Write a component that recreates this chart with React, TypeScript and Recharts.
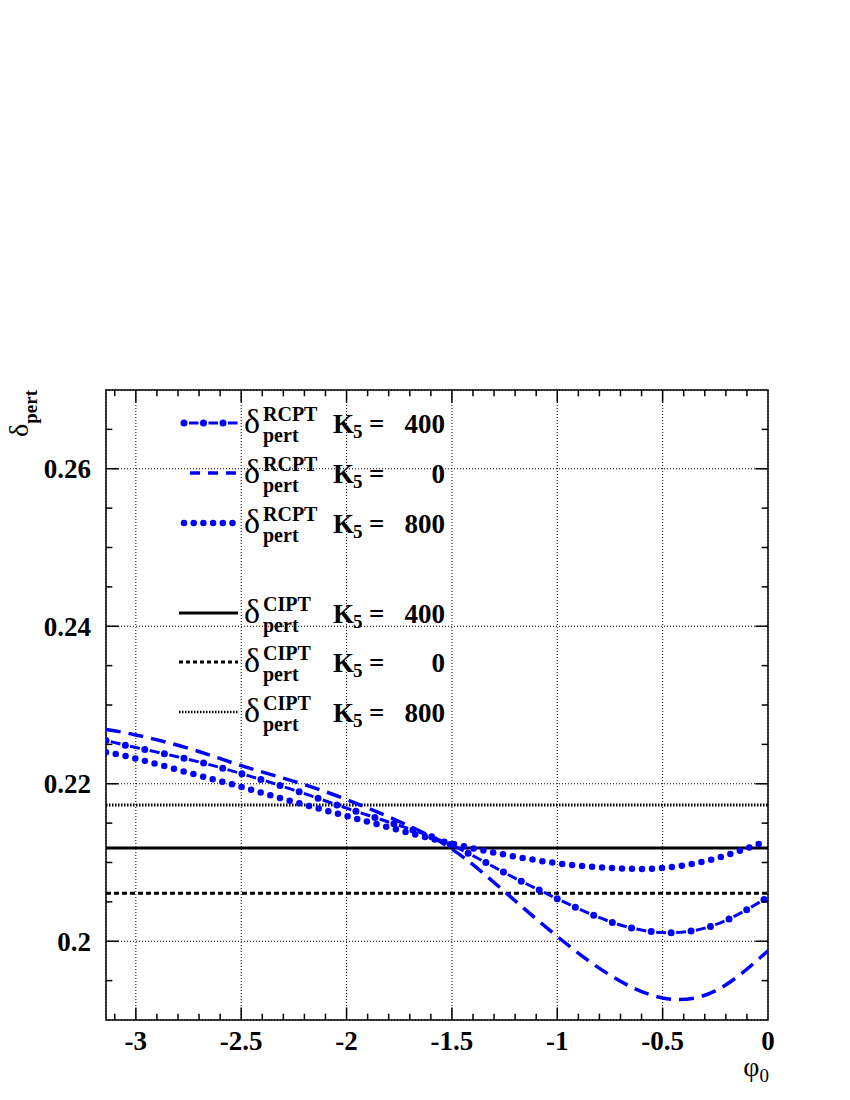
import React from 'react';
import { LineChart, Line, XAxis, YAxis, CartesianGrid, ReferenceLine, ReferenceArea } from 'recharts';

// phi_0 sample points and delta_pert values
const PHI = [-Math.PI, -3, -2.75, -2.5, -2.25, -2, -1.75, -1.5, -1.25, -1, -0.75, -0.5, -0.25, 0];
const RCPT_K400 = [0.2255, 0.2246, 0.2231, 0.2213, 0.2192, 0.2169, 0.2147, 0.2122, 0.2087, 0.2054, 0.2025, 0.2011, 0.2021, 0.2056];
const RCPT_K0 = [0.2269, 0.2262, 0.2245, 0.2223, 0.2203, 0.2180, 0.2152, 0.2117, 0.2063, 0.2006, 0.1957, 0.1928, 0.1937, 0.1988];
const RCPT_K800 = [0.2240, 0.2232, 0.2214, 0.2196, 0.2177, 0.2159, 0.2141, 0.2124, 0.2110, 0.2099, 0.2093, 0.2093, 0.2105, 0.2128];

const CIPT_K400 = 0.21185;
const CIPT_K0 = 0.2061;
const CIPT_K800 = 0.2173;

const X_TICKS = [-3, -2.5, -2, -1.5, -1, -0.5, 0];
const Y_TICKS = [0.2, 0.22, 0.24, 0.26];
const X_MIN = -Math.PI;
const X_MAX = 0;
const Y_MIN = 0.19;
const Y_MAX = 0.27;

const FONT = '"Liberation Serif", "Times New Roman", serif';
const BLUE = '#0000ff';

const toPts = (ys: number[]) => PHI.map((x, i) => ({ x, y: ys[i] }));

// minor/major tick marks drawn inside the frame (ROOT style)
const xTickVals: { v: number; major: boolean }[] = [];
for (let k = -31; k <= -1; k++) xTickVals.push({ v: k / 10, major: k % 5 === 0 });
const yTickVals: { v: number; major: boolean }[] = [];
for (let k = 39; k <= 53; k++) yTickVals.push({ v: k * 0.005, major: k % 4 === 0 });

const XT_MAJ = 0.0016, XT_MIN = 0.0008, YT_MAJ = 0.06, YT_MIN = 0.03;

const tickStyle = { fontFamily: FONT, fontWeight: 'bold' as const, fontSize: 27, fill: '#000' };

function LegendRow({ y, kind, label, k5 }: { y: number; kind: string; label: string; k5: string }) {
  const base = y + 10;
  let sample: React.ReactNode = null;
  if (kind === 'dashdot') {
    sample = (
      <g>
        <line x1={184} x2={238} y1={y} y2={y} stroke={BLUE} strokeWidth={3} strokeDasharray="0 5 9.5 5" />
        <line x1={184} x2={238} y1={y} y2={y} stroke={BLUE} strokeWidth={7} strokeLinecap="round" strokeDasharray="0 19.5" />
      </g>
    );
  } else if (kind === 'dash') {
    sample = <line x1={190} x2={238} y1={y} y2={y} stroke={BLUE} strokeWidth={3.5} strokeDasharray="10 8" />;
  } else if (kind === 'dots') {
    sample = <line x1={184} x2={236} y1={y} y2={y} stroke={BLUE} strokeWidth={6.5} strokeLinecap="round" strokeDasharray="0 9.7" />;
  } else if (kind === 'solid') {
    sample = <line x1={179} x2={238} y1={y} y2={y} stroke="#000" strokeWidth={3} />;
  } else if (kind === 'bdash') {
    sample = <line x1={179} x2={238} y1={y} y2={y} stroke="#000" strokeWidth={3} strokeDasharray="4 3" />;
  } else {
    sample = <line x1={179} x2={238} y1={y} y2={y} stroke="#000" strokeWidth={2.5} strokeDasharray="1.5 1.5" />;
  }
  return (
    <g fontFamily={FONT} fill="#000">
      {sample}
      <text x={244} y={base} fontSize={34}>δ</text>
      <text x={263} y={base - 12} fontSize={20} fontWeight="bold">{label}</text>
      <text x={263} y={base + 9} fontSize={20} fontWeight="bold">pert</text>
      <text x={333} y={base} fontSize={27} fontWeight="bold">K</text>
      <text x={353} y={base + 5} fontSize={19} fontWeight="bold">5</text>
      <text x={369} y={base} fontSize={27} fontWeight="bold">=</text>
      <text x={445} y={base} fontSize={27} fontWeight="bold" textAnchor="end">{k5}</text>
    </g>
  );
}

export default function App() {
  return (
    <div style={{ position: 'absolute', left: 0, top: 0, width: 850, height: 1100, background: '#fff' }}>
      <LineChart width={850} height={1100} margin={{ top: 390, right: 82, left: 6, bottom: 20 }}>
        <CartesianGrid stroke="#000" strokeWidth={1} strokeDasharray="1 2" />
        <XAxis
          type="number"
          dataKey="x"
          domain={[X_MIN, X_MAX]}
          ticks={X_TICKS}
          allowDataOverflow
          height={60}
          axisLine={false}
          tickLine={false}
          tickSize={0}
          tickMargin={11}
          tick={tickStyle}
          interval={0}
        />
        <YAxis
          type="number"
          domain={[Y_MIN, Y_MAX]}
          ticks={Y_TICKS}
          allowDataOverflow
          width={100}
          axisLine={false}
          tickLine={false}
          tickSize={0}
          tickMargin={15}
          tick={tickStyle}
          interval={0}
          tickFormatter={(v: number) => String(Number(v.toFixed(3)))}
        />
        <ReferenceLine y={CIPT_K800} stroke="#000" strokeWidth={3} strokeDasharray="1.5 1.5" />
        <ReferenceLine y={CIPT_K400} stroke="#000" strokeWidth={3} />
        <ReferenceLine y={CIPT_K0} stroke="#000" strokeWidth={3} strokeDasharray="5 3" />

        <Line data={toPts(RCPT_K0)} dataKey="y" type="natural" stroke={BLUE} strokeWidth={3.5} strokeDasharray="15 8" dot={false} activeDot={false} isAnimationActive={false} />
        <Line data={toPts(RCPT_K800)} dataKey="y" type="natural" stroke={BLUE} strokeWidth={6.5} strokeLinecap="round" strokeDasharray="0 10" dot={false} activeDot={false} isAnimationActive={false} />
        <Line data={toPts(RCPT_K400)} dataKey="y" type="natural" stroke={BLUE} strokeWidth={3} strokeDasharray="0 5 10 5" dot={false} activeDot={false} isAnimationActive={false} />
        <Line data={toPts(RCPT_K400)} dataKey="y" type="natural" stroke={BLUE} strokeWidth={7} strokeLinecap="round" strokeDasharray="0 20" dot={false} activeDot={false} isAnimationActive={false} />

        {xTickVals.map(({ v, major }) => (
          <ReferenceLine key={'xb' + v} segment={[{ x: v, y: Y_MIN }, { x: v, y: Y_MIN + (major ? XT_MAJ : XT_MIN) }]} stroke="#000" strokeWidth={1.5} />
        ))}
        {xTickVals.map(({ v, major }) => (
          <ReferenceLine key={'xt' + v} segment={[{ x: v, y: Y_MAX }, { x: v, y: Y_MAX - (major ? XT_MAJ : XT_MIN) }]} stroke="#000" strokeWidth={1.5} />
        ))}
        {yTickVals.map(({ v, major }) => (
          <ReferenceLine key={'yl' + v} segment={[{ x: X_MIN, y: v }, { x: X_MIN + (major ? YT_MAJ : YT_MIN), y: v }]} stroke="#000" strokeWidth={1.5} />
        ))}
        {yTickVals.map(({ v, major }) => (
          <ReferenceLine key={'yr' + v} segment={[{ x: X_MAX, y: v }, { x: X_MAX - (major ? YT_MAJ : YT_MIN), y: v }]} stroke="#000" strokeWidth={1.5} />
        ))}
        <ReferenceArea x1={X_MIN} x2={X_MAX} y1={Y_MIN} y2={Y_MAX} fill="none" fillOpacity={0} stroke="#000" strokeWidth={1.5} />
      </LineChart>

      <svg width={850} height={1100} style={{ position: 'absolute', left: 0, top: 0, pointerEvents: 'none' }}>
        <LegendRow y={423} kind="dashdot" label="RCPT" k5="400" />
        <LegendRow y={473} kind="dash" label="RCPT" k5="0" />
        <LegendRow y={523} kind="dots" label="RCPT" k5="800" />
        <LegendRow y={613} kind="solid" label="CIPT" k5="400" />
        <LegendRow y={662} kind="bdash" label="CIPT" k5="0" />
        <LegendRow y={712} kind="bfine" label="CIPT" k5="800" />

        <text transform="translate(28,390) rotate(-90)" textAnchor="end" fontFamily={FONT}>
          <tspan fontSize={28}>δ</tspan>
          <tspan fontSize={19} fontWeight="bold" dy={9}>pert</tspan>
        </text>
        <text x={769} y={1076} textAnchor="end" fontFamily={FONT}>
          <tspan fontSize={28}>φ</tspan>
          <tspan fontSize={19} dy={6}>0</tspan>
        </text>
      </svg>
    </div>
  );
}
